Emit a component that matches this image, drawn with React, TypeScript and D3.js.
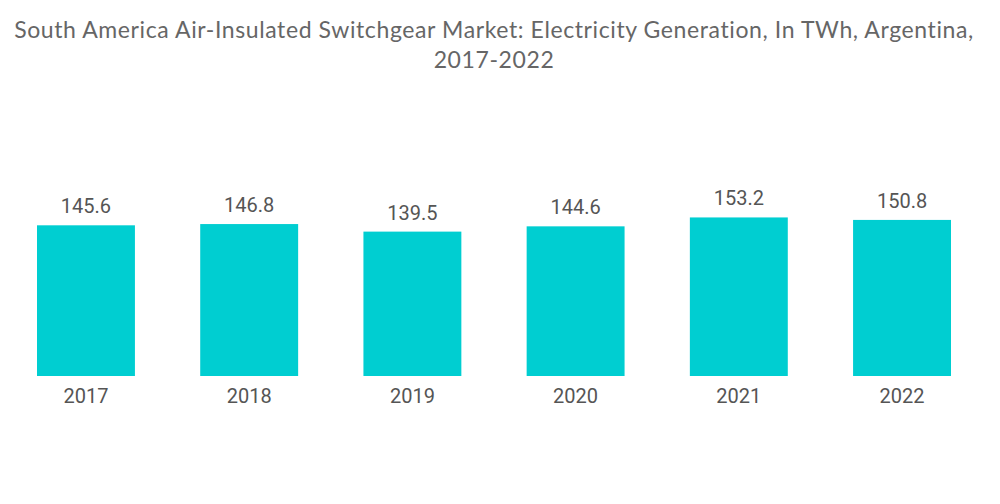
import * as React from 'react'
import { useEffect, useRef } from 'react'
import * as d3 from 'd3'

const years = ['2017', '2018', '2019', '2020', '2021', '2022']
const generation = [145.6, 146.8, 139.5, 144.6, 153.2, 150.8]
const titleLines = [
  'South America Air-Insulated Switchgear Market: Electricity Generation, In TWh, Argentina,',
  '2017-2022',
]

const width = 1000
const height = 504

const App = () => {
  const svgRef = useRef<SVGSVGElement | null>(null)

  useEffect(() => {
    document.body.style.margin = '0'
    const svg = d3.select(svgRef.current)
    svg.selectAll('*').remove()

    const x = d3.scaleBand<string>().domain(years).range([37, 951]).paddingInner(0.4).paddingOuter(0)
    const y = d3.scaleLinear().domain([0, 160]).range([376, 376 - 165.6])

    svg.append('g')
      .selectAll('text')
      .data(titleLines)
      .enter()
      .append('text')
      .attr('x', 494)
      .attr('y', (d, i) => 38 + i * 30)
      .attr('text-anchor', 'middle')
      .attr('fill', '#666')
      .style('font-family', 'Lato, "Open Sans", sans-serif')
      .style('font-size', '23px')
      .style('letter-spacing', '0.6px')
      .text(d => d)

    const data = years.map((yr, i) => ({ yr, v: generation[i] }))

    svg.append('g')
      .selectAll('rect')
      .data(data)
      .enter()
      .append('rect')
      .attr('x', d => x(d.yr) as number)
      .attr('y', d => y(d.v))
      .attr('width', x.bandwidth())
      .attr('height', d => y(0) - y(d.v))
      .attr('fill', '#00CED1')

    svg.append('g')
      .selectAll('text')
      .data(data)
      .enter()
      .append('text')
      .attr('x', d => (x(d.yr) as number) + x.bandwidth() / 2)
      .attr('y', d => y(d.v) - 12)
      .attr('text-anchor', 'middle')
      .attr('fill', '#555')
      .style('font-family', 'Roboto, sans-serif')
      .style('font-size', '20px')
      .text(d => d.v.toFixed(1))

    const axis = d3.axisBottom(x).tickSize(0).tickPadding(0)
    const g = svg.append('g').attr('transform', `translate(0, ${y(0)})`).call(axis)
    g.select('.domain').remove()
    g.selectAll('text')
      .attr('dy', null)
      .attr('y', 27)
      .attr('fill', '#555')
      .style('font-family', 'Roboto, sans-serif')
      .style('font-size', '20px')
  }, [])

  return <svg ref={svgRef} width={width} height={height} style={{ display: 'block' }} />
}

export default App
